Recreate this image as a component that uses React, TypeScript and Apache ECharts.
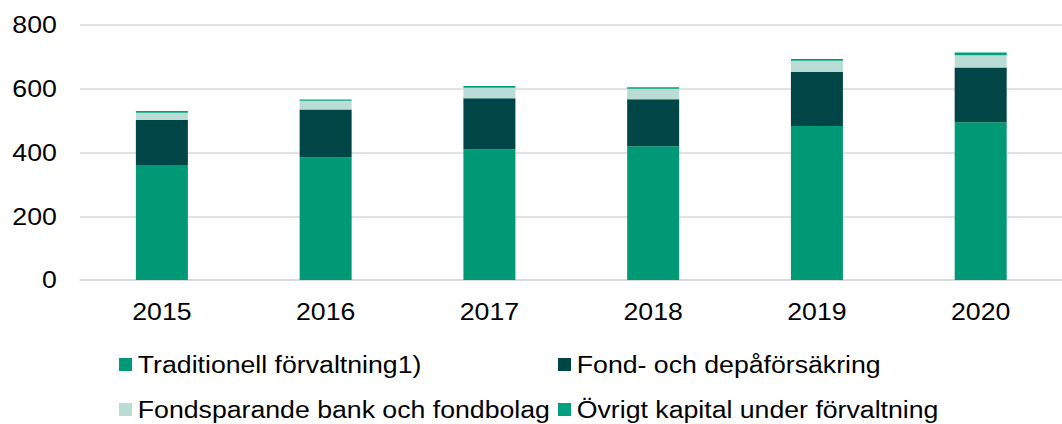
import React, { useEffect, useRef } from "react";
import * as echarts from "echarts";

const years = ["2015", "2016", "2017", "2018", "2019", "2020"];
const traditionell = [361, 384, 410, 420, 483, 495];
const fondDepa = [141, 151, 160, 147, 170, 172];
const fondsparande = [23, 27, 33, 33, 35, 38];
const ovrigt = [5, 4, 6, 5, 5, 9];

const seriesNames = [
  "Traditionell förvaltning1)",
  "Fond- och depåförsäkring",
  "Fondsparande bank och fondbolag",
  "Övrigt kapital under förvaltning",
];
const colors = ["#009975", "#004646", "#B9DCD4", "#00A07E"];
const yTicks = [0, 200, 400, 600, 800];

const S = 1.16;
const W = 1062 / S;

export default function App() {
  const ref = useRef<HTMLDivElement>(null);
  useEffect(() => {
    if (!ref.current) return;
    const chart = echarts.init(ref.current, null, { renderer: "svg" });
    const dataSets = [traditionell, fondDepa, fondsparande, ovrigt];
    const legendPos = [
      { left: 119 / S, top: 353 },
      { left: 558 / S, top: 353 },
      { left: 119 / S, top: 398 },
      { left: 558 / S, top: 398 },
    ];
    chart.setOption({
      animation: false,
      backgroundColor: "#ffffff",
      textStyle: { fontFamily: "Liberation Sans, Arial, sans-serif" },
      grid: { left: 80 / S, right: W - 1075 / S, top: 25, bottom: 144, containLabel: false },
      legend: legendPos.map((p, i) => ({
        data: [seriesNames[i]],
        left: p.left,
        top: p.top,
        padding: 0,
        itemWidth: 13 / S,
        itemHeight: 13,
        itemGap: 0,
        icon: "rect",
        textStyle: { fontSize: 23, color: "#000000", fontFamily: "Liberation Sans, Arial, sans-serif", padding: [0, 0, 0, 0] },
        selectedMode: false,
      })),
      xAxis: {
        type: "category",
        data: years,
        axisLine: { show: true, lineStyle: { color: "#d9d9d9", width: 1.5 } },
        axisTick: { show: false },
        axisLabel: { fontSize: 23, color: "#000000", margin: 20 },
      },
      yAxis: {
        type: "value",
        min: yTicks[0],
        max: yTicks[yTicks.length - 1],
        interval: 200,
        axisLine: { show: false },
        axisTick: { show: false },
        axisLabel: { fontSize: 23, color: "#000000", margin: 20 },
        splitLine: { lineStyle: { color: "#d9d9d9", width: 1.5 } },
      },
      series: dataSets.map((d, i) => ({
        name: seriesNames[i],
        type: "bar",
        stack: "total",
        data: d,
        barWidth: 52 / S,
        itemStyle: { color: colors[i] },
      })),
    });
    return () => chart.dispose();
  }, []);
  return (
    <div style={{ position: "absolute", left: 0, top: 0, width: 1062, height: 424, overflow: "hidden", background: "#fff" }}>
      <div
        ref={ref}
        style={{
          position: "absolute",
          left: 0,
          top: 0,
          width: W,
          height: 424,
          transform: `scaleX(${S})`,
          transformOrigin: "0 0",
        }}
      />
    </div>
  );
}
